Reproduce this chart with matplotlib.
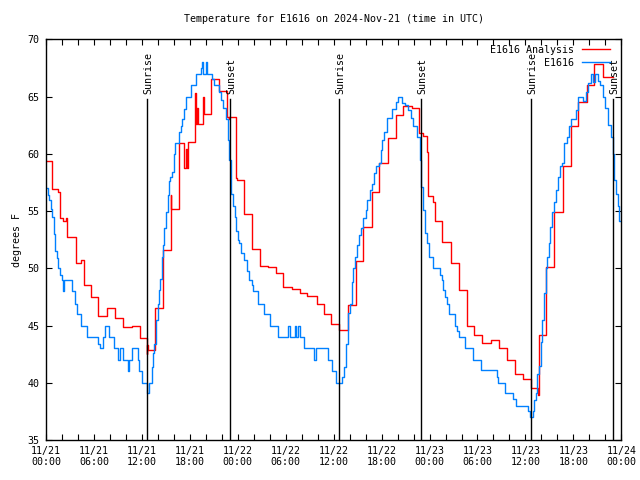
import matplotlib
matplotlib.use("Agg")
import matplotlib.pyplot as plt
from matplotlib.ticker import MultipleLocator, FixedLocator

plt.rcParams['font.family'] = ['DejaVu Sans Mono']

# hours since 11/21 00:00 UTC, temperature (deg F), step values
analysis_hours = [0.08, 0.7, 0.79, 1.54, 1.78, 2.16, 2.45, 2.66, 3.78, 4.44, 4.73, 5.6,
                  6.56, 7.63, 8.63, 9.67, 10.7, 11.7, 12.61, 12.65, 12.75, 13.6, 13.69,
                  14.6, 15.6, 15.7, 16.68, 17.3, 17.5, 17.6, 17.72, 18.67, 18.7, 18.8,
                  18.95, 19.05, 19.67, 19.75, 19.85, 20.66, 21.66, 22.7, 22.85, 22.95,
                  23.74, 23.95, 24.82, 25.74, 26.79, 27.83, 28.75, 29.7, 30.79, 31.79,
                  32.7, 33.88, 34.8, 35.71, 36.71, 37.76, 38.76, 39.72, 40.76, 41.72,
                  42.76, 43.76, 44.72, 45.76, 46.73, 47.23, 47.73, 47.81, 48.48, 48.69,
                  49.6, 50.65, 51.65, 52.65, 53.61, 54.61, 55.65, 56.66, 57.66, 58.7,
                  59.7, 60.66, 61.62, 61.66, 62.58, 63.62, 64.66, 65.67, 66.62, 67.67,
                  68.62, 69.67, 71.0]
analysis_temp = [59.4, 58.2, 56.9, 56.7, 54.4, 54.1, 54.4, 52.7, 50.5, 50.7, 48.5, 47.5,
                 45.8, 46.5, 45.7, 44.9, 45.0, 43.9, 42.5, 43.3, 42.9, 44.6, 46.5,
                 51.6, 56.4, 55.2, 60.9, 58.8, 60.4, 58.8, 61.0, 62.6, 65.3, 62.6,
                 64.0, 62.6, 65.0, 63.5, 63.5, 66.5, 65.5, 63.2, 63.0, 63.2,
                 57.9, 57.7, 54.7, 51.7, 50.2, 50.1, 49.6, 48.4, 48.2, 47.8,
                 47.6, 46.9, 46.0, 45.1, 44.6, 46.8, 50.6, 53.6, 56.7, 59.2,
                 61.4, 63.4, 64.2, 64.0, 61.8, 61.55, 60.2, 56.3, 55.8, 54.1,
                 52.3, 50.5, 48.1, 45.0, 44.2, 43.5, 43.7, 43.0, 42.0, 40.8,
                 40.3, 39.5, 38.9, 44.2, 50.1, 54.9, 58.9, 62.4, 64.5, 66.0,
                 67.8, 66.7, 66.7]

obs_hours = [0.08, 0.29, 0.41, 0.58, 0.79, 1.0, 1.16, 1.33, 1.54, 1.74, 1.95, 2.16, 2.28,
             3.28, 3.69, 3.94, 4.36, 5.15, 6.56, 6.72, 7.14, 7.39, 7.88, 8.55, 8.96, 9.29,
             9.63, 10.29, 10.41, 10.71, 11.45, 11.62, 12.03, 12.66, 12.95, 13.28, 13.44,
             13.57, 13.78, 13.98, 14.11, 14.27, 14.48, 14.61, 14.81, 15.02, 15.23, 15.44,
             15.56, 15.77, 15.98, 16.14, 16.6, 16.89, 17.01, 17.3, 17.51, 18.17, 18.76,
             19.34, 19.54, 19.67, 20.0, 20.12, 20.83, 21.04, 21.66, 21.91, 22.16, 22.49,
             22.74, 22.9, 23.11, 23.44, 23.65, 23.82, 23.98, 24.2, 24.45, 24.78, 25.11,
             25.45, 25.74, 25.95, 26.57, 27.33, 28.03, 29.08, 30.33, 30.53, 31.16, 31.28,
             31.58, 31.78, 32.33, 33.58, 33.75, 35.25, 35.75, 36.3, 37.09, 37.29, 37.53,
             37.76, 38.05, 38.26, 38.46, 38.71, 38.88, 39.17, 39.38, 39.72, 40.01, 40.22,
             40.51, 40.76, 41.05, 41.3, 41.72, 41.89, 42.09, 42.34, 42.63, 43.26, 43.81,
             44.02, 44.52, 44.93, 45.35, 45.64, 45.98, 46.4, 46.81, 46.98, 47.23, 47.48,
             47.73, 47.98, 48.39, 49.31, 49.52, 49.73, 49.94, 50.15, 50.48, 51.19, 51.48,
             51.73, 52.44, 53.48, 54.48, 56.41, 56.62, 57.45, 58.49, 58.83, 60.37, 60.58,
             60.91, 61.08, 61.28, 61.49, 61.7, 61.91, 62.12, 62.33, 62.54, 62.75, 62.91,
             63.08, 63.37, 63.62, 63.83, 64.08, 64.33, 64.54, 64.83, 65.16, 65.41, 65.66,
             66.33, 66.62, 67.25, 67.58, 67.87, 68.17, 68.5, 68.71, 69.13, 69.34, 69.67,
             70.0, 70.38, 70.67, 70.92, 71.09, 71.34, 71.59, 71.76, 71.9]
obs_temp = [57.0, 56.4, 56.0, 55.2, 54.5, 53.0, 51.5, 50.9, 50.0, 49.4, 49.0, 48.0, 49.0,
            48.0, 46.9, 46.0, 45.0, 44.0, 43.4, 43.0, 44.0, 45.0, 44.0, 43.0, 42.0, 43.0,
            42.0, 41.0, 42.0, 43.0, 42.0, 41.0, 40.0, 39.1, 40.0, 41.4, 42.6,
            43.4, 45.5, 46.9, 48.1, 49.1, 51.0, 52.0, 53.5, 54.9, 56.4, 57.6,
            58.0, 58.4, 60.0, 60.9, 61.9, 62.4, 63.0, 63.9, 65.0, 66.0, 67.0,
            67.5, 68.0, 67.0, 68.0, 67.0, 66.5, 66.0, 65.4, 64.7, 64.0, 63.0,
            61.2, 59.5, 56.5, 55.4, 54.5, 53.3, 52.5, 52.2, 51.3, 50.7, 49.8,
            49.0, 48.5, 48.0, 46.9, 46.0, 45.0, 44.0, 45.0, 44.0, 45.0, 44.0,
            45.0, 44.0, 43.0, 42.0, 43.0, 42.0, 41.0, 40.0, 40.5, 41.4, 43.4,
            46.1, 46.9, 48.8, 50.0, 51.0, 52.0, 52.9, 53.5, 54.4, 55.1, 56.0,
            56.8, 57.4, 58.3, 58.9, 59.2, 60.3, 61.2, 61.9, 63.1, 63.9, 64.5,
            65.0, 64.4, 64.3, 63.8, 63.1, 62.4, 61.5, 59.5, 57.1, 55.1, 53.1,
            52.2, 51.0, 50.0, 49.4, 49.0, 48.1, 47.5, 46.9, 46.0, 45.0, 44.5,
            44.0, 43.0, 42.0, 41.1, 40.5, 40.0, 39.1, 38.6, 38.0, 37.5, 37.0,
            37.5, 38.5, 39.1, 40.8, 41.5, 43.6, 45.5, 47.8, 50.0, 51.0, 52.2,
            53.6, 54.9, 55.8, 56.8, 58.0, 58.9, 59.2, 60.9, 61.5, 62.4, 63.0,
            63.8, 65.0, 64.6, 65.4, 66.2, 67.0, 66.3, 67.0, 66.4, 66.0, 65.0,
            64.0, 62.5, 61.5, 60.0, 57.7, 56.5, 55.4, 54.1, 54.1]

sun_hours = [12.64, 23.07, 36.67, 46.97, 60.74, 71.0]
sun_labels = ["Sunrise", "Sunset", "Sunrise", "Sunset", "Sunrise", "Sunset"]
sun_line_top = 64.8

tick_labels = ["11/21\n00:00", "11/21\n06:00", "11/21\n12:00", "11/21\n18:00",
               "11/22\n00:00", "11/22\n06:00", "11/22\n12:00", "11/22\n18:00",
               "11/23\n00:00", "11/23\n06:00", "11/23\n12:00", "11/23\n18:00",
               "11/24\n00:00"]

fs = 7.2

fig = plt.figure(figsize=(6.4, 4.8), dpi=100)
ax = fig.add_axes([0.0719, 0.0833, 0.8989, 0.8348])

ax.step(analysis_hours, analysis_temp, where='post', color='#ff0000', lw=1,
        label='E1616 Analysis')
ax.step(obs_hours, obs_temp, where='post', color='#0080ff', lw=1, label='E1616')

for h, lab in zip(sun_hours, sun_labels):
    ax.plot([h, h], [35, sun_line_top], color='black', lw=1)
    ax.text(h + 0.15, sun_line_top + 0.4, lab, rotation=90, ha='center', va='bottom',
            fontsize=fs)

ax.set_xlim(0, 72)
ax.set_ylim(35, 70)
ax.xaxis.set_major_locator(FixedLocator(range(0, 73, 6)))
ax.set_xticklabels(tick_labels)
ax.xaxis.set_minor_locator(MultipleLocator(2))
ax.yaxis.set_major_locator(MultipleLocator(5))
ax.tick_params(which='both', direction='in', top=True, right=True, length=4,
               width=0.8, labelsize=fs)
ax.tick_params(axis='x', pad=4)
ax.tick_params(axis='y', pad=5)
for s in ax.spines.values():
    s.set_linewidth(1)

ax.set_ylabel('degrees F', fontsize=fs, labelpad=4)
ax.text(0.5, 1.0 + 20 / 400.7, 'Temperature for E1616 on 2024-Nov-21 (time in UTC)',
        transform=ax.transAxes, ha='center', va='center', fontsize=fs)

ax.legend(loc='upper right', bbox_to_anchor=(0.9804, 0.9863), markerfirst=False,
          frameon=False, fontsize=fs, handlelength=2.8, labelspacing=0.3,
          borderaxespad=0, handletextpad=0.77, borderpad=0)

fig.savefig('out.png', dpi=100)
